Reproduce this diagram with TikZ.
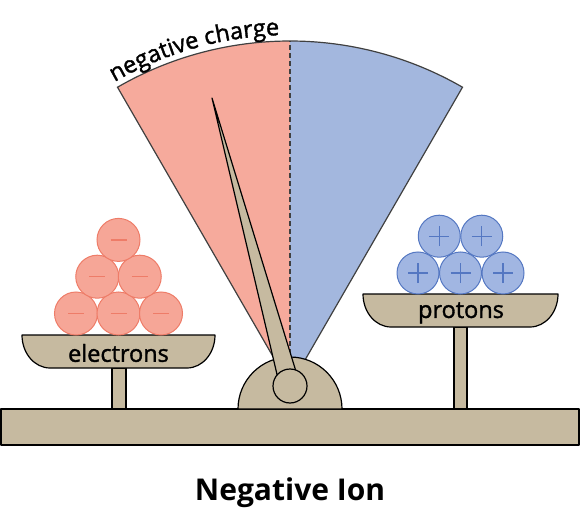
\documentclass[tikz,border=0pt]{standalone}
\usepackage{fontspec}
\setmainfont{Open Sans}
\newfontfamily\medfont{Open Sans}[FakeBold=1.5]
\usetikzlibrary{calc,decorations.text}

\definecolor{scaletan}{RGB}{198,186,160}
\definecolor{fanpink}{RGB}{246,170,156}
\definecolor{fanblue}{RGB}{163,183,222}
\definecolor{elfill}{RGB}{246,166,151}
\definecolor{eledge}{RGB}{238,124,104}
\definecolor{prfill}{RGB}{161,182,226}
\definecolor{predge}{RGB}{84,119,194}

\begin{document}
\begin{tikzpicture}[x=1pt,y=1pt,
    part/.style={draw=black,line width=1.2pt,fill=scaletan,line join=round},
    fanline/.style={draw=black!75,line width=1.2pt},
    electron/.style={circle,minimum size=43pt,inner sep=0pt,fill=elfill,draw=eledge,line width=1pt,
      path picture={\draw[eledge,line width=1.2pt] ([xshift=-8pt]path picture bounding box.center) -- ++(16,0);}},
    proton/.style={circle,minimum size=42pt,inner sep=0pt,fill=prfill,draw=predge,line width=1pt,
      path picture={\draw[predge,line width=1.2pt] ([xshift=-10pt]path picture bounding box.center) -- ++(20,0)
                    ([yshift=-10pt]path picture bounding box.center) -- ++(0,20);}},
    panname/.style={font=\medfont\fontsize{23.5}{26}\selectfont}]
  \useasboundingbox (0,0) rectangle (580,520);

  % dial
  \coordinate (pivot) at (290,134);
  \fill[fanpink] (pivot) -- ++(120:345) arc[start angle=120,end angle=90,radius=345] -- cycle;
  \fill[fanblue] (pivot) -- ++(90:345) arc[start angle=90,end angle=60,radius=345] -- cycle;
  \draw[fanline] (pivot) -- ++(120:345) arc[start angle=120,end angle=60,radius=345] -- cycle;
  \draw[fanline,dashed,dash pattern=on 5pt off 3pt] (pivot) -- ++(90:345);
  \path[decorate,decoration={text along path,text align=left,
        text={|\medfont\fontsize{23.5}{27}\selectfont|negative charge}}]
    (pivot) ++(120:351) arc[start angle=120,end angle=86,radius=351];

  % base
  \draw[part] (1,75) rectangle (579,111);
  \draw[part] (238,111) arc[start angle=180,end angle=0,radius=52] -- cycle;

  % needle
  \coordinate (tip) at (212,422);
  \draw[part] (tip) -- ($(pivot)!10pt!90:(tip)$) -- ($(pivot)!10pt!-90:(tip)$) -- cycle;
  \draw[part] (pivot) circle[radius=17];

  % left pan
  \draw[part] (112,111) rectangle (126,152);
  \draw[part] (22,185) -- (215,185) arc[start angle=0,end angle=-90,x radius=28,y radius=33]
    -- (50,152) arc[start angle=270,end angle=180,x radius=28,y radius=33] -- cycle;
  \node[panname] (electrons) at (118.5,167) {electrons};
  \foreach \i in {0,1,2}
    \node[electron] (e1\i) at (76+42.5*\i,206.5) {};
  \foreach \i in {0,1}
    \node[electron] (e2\i) at (97.25+42.5*\i,243.3) {};
  \node[electron] (e30) at (118.5,280.1) {};

  % right pan
  \draw[part] (454,111) rectangle (467,193);
  \draw[part] (363,226) -- (558,226) arc[start angle=0,end angle=-90,x radius=28,y radius=33]
    -- (391,193) arc[start angle=270,end angle=180,x radius=28,y radius=33] -- cycle;
  \node[panname] (protons) at (461,207) {protons};
  \foreach \i in {0,1,2}
    \node[proton] (p1\i) at (418+42.5*\i,247) {};
  \foreach \i in {0,1}
    \node[proton] (p2\i) at (439.25+42.5*\i,283.8) {};

  \node[font=\fontsize{30}{35}\selectfont\bfseries] (title) at (290,27) {Negative Ion};
\end{tikzpicture}
\end{document}
